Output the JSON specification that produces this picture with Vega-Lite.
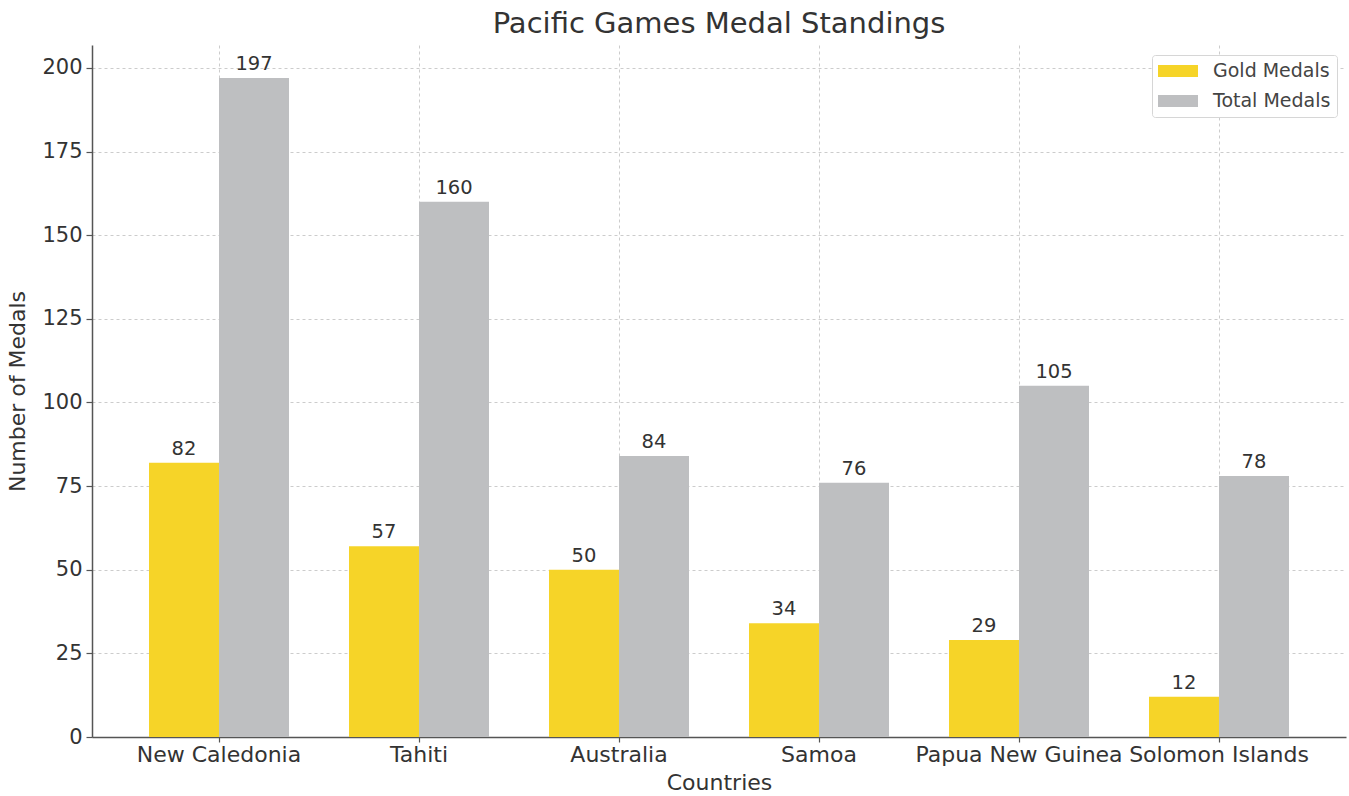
{
  "$schema": "https://vega.github.io/schema/vega-lite/v6.json",
  "width": 1254,
  "height": 692,
  "autosize": {"type": "none"},
  "padding": {"left": 92, "top": 45, "right": 3, "bottom": 59},
  "background": "white",
  "title": {
    "text": "Pacific Games Medal Standings",
    "fontSize": 29,
    "font": "DejaVu Sans",
    "fontWeight": "normal",
    "color": "#333333",
    "anchor": "middle",
    "offset": 6
  },
  "config": {
    "font": "DejaVu Sans",
    "view": {"stroke": null},
    "axis": {
      "labelFont": "DejaVu Sans",
      "titleFont": "DejaVu Sans",
      "labelColor": "#333333",
      "titleColor": "#333333",
      "titleFontWeight": "normal",
      "domainColor": "#555555",
      "domainWidth": 1.5,
      "tickColor": "#555555",
      "tickWidth": 1.2,
      "gridColor": "#cccccc",
      "gridDash": [3, 3],
      "gridWidth": 1
    }
  },
  "data": {
    "values": [
      {"country": "New Caledonia", "medal": "Gold Medals", "count": 82},
      {"country": "New Caledonia", "medal": "Total Medals", "count": 197},
      {"country": "Tahiti", "medal": "Gold Medals", "count": 57},
      {"country": "Tahiti", "medal": "Total Medals", "count": 160},
      {"country": "Australia", "medal": "Gold Medals", "count": 50},
      {"country": "Australia", "medal": "Total Medals", "count": 84},
      {"country": "Samoa", "medal": "Gold Medals", "count": 34},
      {"country": "Samoa", "medal": "Total Medals", "count": 76},
      {"country": "Papua New Guinea", "medal": "Gold Medals", "count": 29},
      {"country": "Papua New Guinea", "medal": "Total Medals", "count": 105},
      {"country": "Solomon Islands", "medal": "Gold Medals", "count": 12},
      {"country": "Solomon Islands", "medal": "Total Medals", "count": 78}
    ]
  },
  "encoding": {
    "x": {
      "field": "country",
      "type": "nominal",
      "sort": null,
      "scale": {"paddingInner": 0.3, "paddingOuter": 0.285},
      "axis": {
        "title": "Countries",
        "titleFontSize": 22,
        "titlePadding": 7,
        "labelFontSize": 22,
        "labelAngle": 0,
        "labelPadding": 2,
        "labelLimit": 0,
        "tickSize": 5,
        "grid": true,
        "labelOverlap": false
      }
    },
    "xOffset": {
      "field": "medal",
      "type": "nominal",
      "scale": {"paddingInner": 0, "paddingOuter": 0}
    },
    "y": {
      "field": "count",
      "type": "quantitative",
      "scale": {"domain": [0, 206.85], "nice": false},
      "axis": {
        "title": "Number of Medals",
        "titleFontSize": 22,
        "titlePadding": 12,
        "labelFontSize": 21,
        "labelPadding": 4,
        "tickSize": 6,
        "values": [0, 25, 50, 75, 100, 125, 150, 175, 200],
        "grid": true
      }
    }
  },
  "layer": [
    {
      "mark": {"type": "bar"},
      "encoding": {
        "color": {
          "field": "medal",
          "type": "nominal",
          "scale": {"domain": ["Gold Medals", "Total Medals"], "range": ["#F6D428", "#BEBFC1"]},
          "legend": {
            "title": null,
            "orient": "none",
            "legendX": 1060,
            "legendY": 10,
            "labelFont": "DejaVu Sans",
            "labelFontSize": 19,
            "labelColor": "#444444",
            "symbolType": "M-1,-0.6H3V0.6H-1Z",
            "symbolSize": 400,
            "symbolStrokeWidth": 0,
            "symbolOpacity": 1,
            "labelOffset": 35,
            "rowPadding": 10,
            "padding": 6,
            "strokeColor": "#d6d6d6",
            "fillColor": "white",
            "cornerRadius": 3
          }
        }
      }
    },
    {
      "mark": {"type": "text", "baseline": "alphabetic", "dy": -8, "fontSize": 19.5, "color": "#333333", "font": "DejaVu Sans"},
      "encoding": {
        "text": {"field": "count", "type": "quantitative"}
      }
    }
  ]
}
